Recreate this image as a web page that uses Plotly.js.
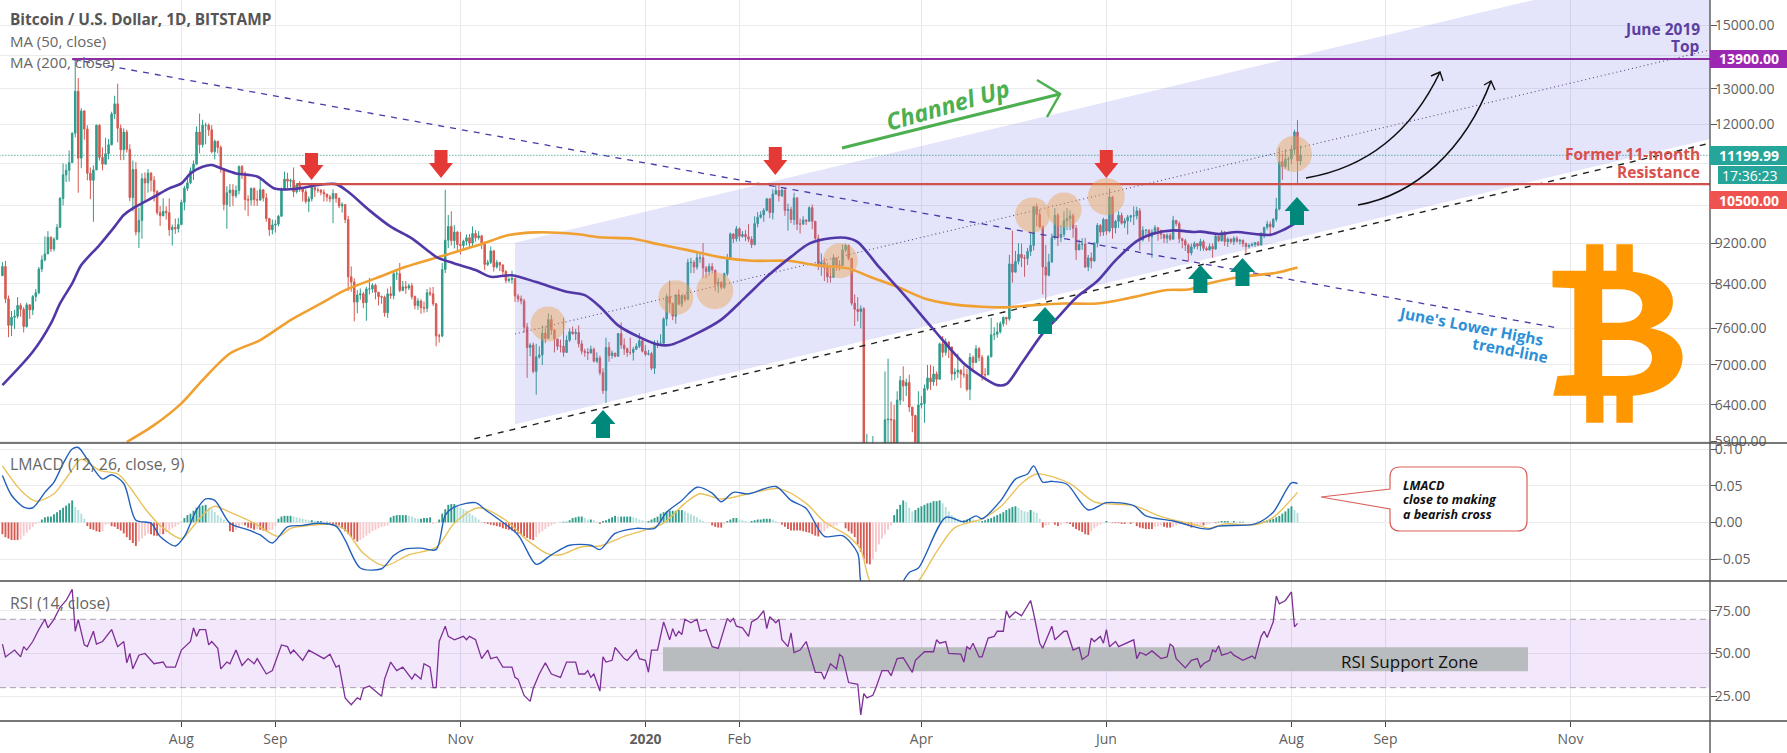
<![CDATA[<!DOCTYPE html>
<html><head><meta charset="utf-8">
<script src="https://cdn.plot.ly/plotly-3.0.1.min.js"></script>
<style>html,body{margin:0;padding:0;background:#fff}#c{width:1787px;height:753px}</style></head>
<body><div id="c"></div>
<script>
// Day numbers count from 2019-08-01
const closes=[
8730,8120,7650,7790,7810,8000,7930,7630,8010,7920,8160,8230,8680,8860,8980,9320,9080,9280,9530,10170,10720,10830,11020,11770,12930,11130,12370,11880,10760,
10590,10840,11980,11150,10980,11240,11470,12290,12570,11900,11340,11800,11350,10190,10850,9430,9680,10630,10530,10760,10590,10330,9850,9780,9880,9850,9480,9530,9500,9590,10080,
10400,10530,10820,10980,11800,11470,11980,11980,11860,11290,11560,11400,10860,10030,10300,10360,10230,10350,10920,10760,10140,10130,10400,10140,10130,10370,10180,9720,9480,9580,9600,
9770,10380,10620,10570,10590,10320,10480,10410,10320,10100,10160,10420,10360,10360,10310,10270,10200,10160,10280,10170,10000,10030,9700,8530,8430,8060,8190,8210,8050,8300,
8300,8370,8240,8160,8150,7870,8210,8180,8590,8590,8270,8340,8320,8360,8160,8000,8080,7960,7950,8230,8210,8030,7470,7470,8670,9260,9550,9250,9430,9170,9150,
9240,9310,9200,9400,9310,9350,9200,8770,8810,9040,8720,8810,8760,8630,8460,8480,8500,8170,8120,8080,7620,7280,7320,6900,7130,7160,7520,7430,7750,7570,
7420,7300,7300,7200,7400,7540,7510,7530,7340,7220,7200,7190,7250,7060,7110,6880,6610,7280,7150,7190,7140,7510,7320,7260,7200,7200,7250,7300,7390,7220,7170,
7180,6950,7340,7350,7350,7760,8160,8040,7810,8190,8020,8180,8110,8810,8810,8720,8900,8900,8700,8630,8730,8660,8390,8430,8330,8590,8900,9390,9290,9500,9340,
9380,9330,9280,9170,9610,9750,9800,9900,10160,9850,10270,10350,10230,10360,9900,9920,9700,10180,9600,9600,9690,9660,9960,9660,9300,8780,8810,8710,8530,
8520,8900,8760,8750,9060,9150,8890,8040,7930,7890,7940,4860,5580,5170,5350,5030,5330,5410,6190,6200,6190,5820,6470,6760,6680,6730,6370,6250,5880,6400,6420,
6640,6800,6740,6860,6780,7340,7200,7370,7290,6860,6890,6920,6860,6850,6630,7120,7040,7260,7120,6850,6850,7130,7490,7500,7540,7680,7790,7760,8780,8620,
8830,8970,8900,8890,9030,9150,9980,9810,9540,8720,8560,8820,9310,9790,9320,9380,9670,9720,9780,9510,9060,9170,9180,8720,8900,8840,9200,9570,9430,9700,9450,
10200,9520,9660,9790,9620,9670,9750,9780,9780,9890,9270,9470,9470,9330,9430,9520,9460,9380,9300,9360,9280,9680,9610,9290,9250,9160,9000,9120,9190,9140,
9230,9090,9060,9130,9080,9340,9250,9430,9230,9280,9230,9300,9240,9260,9190,9130,9150,9170,9210,9160,9390,9530,9600,9540,9700,9930,11040,10920,11100,11110,11350,
11800,11060,11199.99];
const highs=[
8820,8840,8180,7900,7920,8150,8040,7970,8050,8020,8190,8300,8720,8950,9340,9450,9340,9320,9600,10200,11000,10980,11320,11790,13880,13320,12450,12400,11980,
10900,10950,12000,12010,11400,11650,11620,12350,12800,13150,12000,11900,11860,11480,11070,11030,9960,10760,10780,10860,10790,10690,10360,10000,10170,9990,10170,9590,9720,9730,10140,
10460,10670,10900,11070,11950,12300,12130,12050,12030,11980,11600,11550,11450,10880,10450,10500,10500,10470,10950,10960,10800,10240,10420,10420,10350,10650,10380,10290,9730,9700,9690,
9800,10420,10800,10770,10630,10900,10520,10570,10390,10380,10220,10450,10440,10420,10380,10380,10270,10250,10380,10280,10190,10080,10030,9780,8730,8500,8280,8310,8250,8340,
8510,8410,8400,8230,8180,8180,8310,8350,8660,8680,8800,8450,8450,8400,8410,8180,8130,8110,8070,8300,8330,8340,8040,7510,8800,10370,9800,9880,9580,9450,9430,
9270,9380,9390,9550,9470,9450,9370,9230,8860,9130,9060,8860,8800,8770,8660,8520,8650,8510,8210,8180,8120,7690,7350,7360,7340,7300,7650,7630,7860,7830,
7590,7420,7410,7780,7480,7600,7630,7590,7650,7400,7260,7270,7310,7280,7200,7150,6950,7440,7370,7230,7190,7520,7700,7430,7280,7440,7290,7350,7520,7410,7320,
7240,7210,7400,7400,7500,7790,8210,8460,8040,8200,8290,8190,8200,8880,8900,8850,9010,9000,9200,8740,8790,8800,8660,8510,8440,8610,8980,9420,9410,9560,9530,
9450,9470,9600,9340,9770,9860,9880,9950,10180,10170,10380,10480,10520,10390,10380,10050,9980,10300,10200,9720,9770,9700,9990,10030,9670,9380,8990,8900,8800,
8750,8970,8900,8850,9170,9190,9170,8180,8200,8150,8000,7970,6000,5680,5970,5360,5560,5700,6900,7100,6450,6400,6600,6830,6980,6790,6850,6300,6260,6600,6530,
6700,7000,7000,6980,6900,7360,7470,7430,7380,7290,6950,7180,6930,6990,6940,7190,7150,7320,7290,7160,6950,7160,7780,7620,7700,7720,7800,7780,8960,9460,
9040,9200,9190,8960,9100,9400,9990,10050,9920,9570,9160,8980,9400,9950,9840,9580,9880,9950,9900,9830,9580,9270,9300,9310,8960,9010,9220,9620,9600,9740,9700,
10400,10230,9690,9880,9850,9730,9800,9800,9990,9980,9950,9550,9490,9490,9490,9580,9540,9480,9390,9400,9410,9780,9680,9660,9310,9290,9190,9190,9230,9200,
9290,9270,9130,9190,9190,9370,9380,9470,9450,9320,9300,9340,9340,9280,9270,9210,9190,9210,9220,9240,9430,9540,9670,9660,9730,10180,11400,11250,11350,11170,11460,
11860,12120,11450];
const lows=[
8550,8040,7450,7470,7590,7770,7800,7530,7610,7760,7830,8070,8200,8620,8830,8980,9020,9030,9260,9520,10010,10550,10560,11020,11660,10300,10880,11600,10590,
10150,9650,10840,11070,10830,10980,11100,11450,12150,11530,11080,11080,11270,10100,9880,9360,9100,9290,10120,10300,10330,10100,9800,9560,9770,9700,9350,9150,9390,9420,9580,
9900,10340,10500,10600,11000,11250,11400,11480,11700,11250,11100,11250,10770,9900,9500,9980,10000,10180,10260,10620,9900,9770,10010,10000,10000,10120,10100,9650,9350,9380,9420,
9550,9760,10350,10400,10420,10200,10280,10320,10100,10050,9860,10100,10200,10300,10240,10100,10100,10080,9620,10070,9950,9850,9620,8260,8250,7720,7860,8100,7950,7730,
8200,8230,8110,8000,8030,7800,7780,8120,8110,8470,8240,8270,8210,8280,8110,7930,7920,7850,7870,7880,8170,7990,7300,7360,7450,8600,9100,9150,9090,9030,8970,
9070,9150,9080,9120,9230,9270,9080,8660,8740,8780,8630,8690,8640,8570,8410,8420,8400,8060,8060,8020,7530,6800,7140,6870,6550,7100,7000,7350,7420,7490,
7200,7240,7200,7130,7270,7370,7490,7400,7280,7170,7130,7080,7210,7040,7030,6840,6560,6430,7050,7100,7120,7130,7260,7160,7130,7160,7070,7250,7270,7200,7140,
7150,6920,6860,7270,7310,7330,7640,7870,7740,7680,8000,7970,8060,8090,8600,8600,8670,8800,8510,8500,8550,8600,8260,8230,8290,8300,8540,8870,9200,9230,9240,
9310,9240,9220,9100,9150,9530,9720,9650,9880,9730,9700,10250,10100,10200,9780,9460,9620,9580,9470,9400,9580,9580,9650,9490,9260,8660,8550,8450,8420,
8420,8510,8650,8650,8740,9010,8850,8000,7640,7720,7600,4400,3850,5100,5120,4450,5000,5060,5400,5730,5860,5740,5700,6400,6450,6530,6300,6020,5860,5880,6350,
6150,6610,6620,6680,6680,6780,7120,7150,7110,6760,6770,6800,6650,6800,6600,6470,6900,7030,7060,6760,6810,6840,7120,7400,7440,7510,7630,7660,7730,8420,
8630,8770,8720,8530,8760,8940,9050,9550,9520,8200,8100,8540,8800,9270,9140,9220,9320,9470,9470,9310,8860,9100,9060,8700,8640,8690,8820,9110,9340,9350,9370,
9420,9290,9400,9520,9590,9520,9380,9640,9580,9700,9050,9230,9350,9230,8900,9370,9250,9280,9200,9200,9250,9280,9560,9200,9090,9040,8830,8950,9080,9070,
9040,9040,9040,9050,8900,9060,9220,9230,9140,9120,9190,9160,9210,9170,9120,9000,9090,9130,9120,9140,9150,9300,9480,9380,9510,9650,9900,10600,10870,10830,10980,
11220,10500,10950];
const firstCandleDay=-60, firstOpen=8550;

const ma50Days=[-59,-49,-43,-40,-36,-33,-27,-22,-19,-16,-9,-4,0,3,7,10,13,18,25,31,39,45,51,55,62,69,76,84,90,97,102,109,117,127,133,138,144,151,157,161,170,178,186,193,201,207,214,219,223,230,238,248,258,264,269,272,277,284,289,295,302,308,315,320,327,334,336,342,348,354,359,363,368];
const ma50=[6691,7210,7685,8035,8405,8757,9159,9545,9797,9943,10207,10400,10517,10755,10915,10960,10880,10755,10680,10390,10400,10480,10500,10320,9900,9545,9297,8922,8790,8660,8530,8560,8430,8250,8187,7977,7650,7450,7330,7320,7514,7750,8150,8530,8920,9190,9300,9310,9220,8720,8210,7580,7024,6818,6691,6705,7024,7514,7790,8140,8450,8850,9240,9390,9465,9430,9440,9390,9430,9390,9370,9465,9650];
const ma200Days=[-18,-9,0,7,16,26,36,45,54,64,74,85,98,108,117,130,138,149,157,167,178,188,200,209,220,227,236,245,254,264,272,281,291,302,312,325,332,338,348,361,368];
const ma200=[5890,6117,6423,6767,7183,7402,7741,8005,8280,8500,8725,8922,9159,9367,9423,9390,9320,9290,9180,9056,8910,8842,8842,8757,8690,8530,8342,8127,8024,7977,7966,8005,8035,8035,8127,8280,8290,8393,8517,8609,8712];

const macdDays=[-59,-56,-52,-49,-45,-42,-39,-36,-34,-31,-26,-23,-19,-15,-10,-7,-2,1,5,8,11,16,22,26,30,35,40,45,51,54,59,66,70,74,79,84,87,90,97,100,111,117,122,128,135,138,143,150,156,160,165,170,175,178,182,187,196,201,206,212,218,223,224,228,233,238,240,243,252,258,262,264,270,275,279,281,284,287,292,299,305,314,318,327,336,339,342,354,360,366,368];
const macdLine=[.064,.037,.021,.020,.041,.055,.080,.100,.102,.086,.059,.065,.053,.003,-.001,-.019,-.032,-.019,.017,.032,.030,-.001,-.010,-.017,-.028,-.006,-.004,-.001,-.005,-.024,-.062,-.063,-.045,-.036,-.035,-.037,.010,.021,.027,.018,-.017,-.057,-.044,-.031,-.031,-.037,-.015,-.008,-.008,.014,.030,.048,.040,.028,.041,.039,.049,.030,.019,-.019,-.018,-.042,-.080,-.120,-.120,-.080,-.068,-.062,.007,.001,.009,.005,.029,.059,.066,.077,.055,.056,.052,.017,.027,.023,.009,.002,-.008,-.009,-.005,-.002,.014,.054,.053];
const signalDays=[-59,-53,-48,-42,-37,-33,-27,-21,-17,-12,-7,0,3,7,11,16,24,32,36,42,50,54,60,67,75,84,90,98,107,114,121,125,132,138,146,153,159,166,171,178,187,197,206,212,220,224,227,234,243,249,255,264,270,277,282,293,301,314,323,336,339,344,354,360,368];
const signalLine=[.077,.044,.029,.039,.066,.086,.071,.066,.048,.019,-.004,-.022,-.010,.010,.022,.014,-.001,-.019,-.008,-.004,-.003,-.010,-.042,-.059,-.044,-.034,-.001,.020,.003,-.024,-.043,-.044,-.033,-.032,-.019,-.010,-.001,.026,.039,.032,.039,.046,.026,.001,-.019,-.037,-.080,-.115,-.080,-.040,-.007,.005,.021,.053,.066,.053,.028,.023,.008,-.005,-.008,-.002,-.003,.007,.041];
// Histogram runs: [first day, bars]
const histRuns=[
[-59,[-.016,-.02,-.022,-.024,-.024,-.024,-.023,-.018,-.014,-.01,-.006,-.002]],
[-47,[.001,.004,.007,.008,.008,.011,.014,.017,.02,.023,.026,.03,.021,.017,.012,.005]],
[-31,[-.005,-.009,-.01,-.012,-.013,-.012,-.003,-.002,-.005,-.006,-.009,-.011,-.015,-.02,-.024,-.028,-.032]],
[-14,[-.026,-.022,-.018,-.015,-.016,-.018,-.018,-.016,-.016,-.013,-.011,-.008,-.006,-.003]],
[0,[.002,.006,.01,.012,.016,.02,.022,.023,.024,.02,.018,.014,.01,.007,.004,.001]],
[16,[-.012,-.013,-.01,-.006,-.003,-.004,-.007,-.008,-.01,-.009,-.01,-.011,-.012,-.011,-.01,-.005]],
[32,[.005,.008,.009,.009,.009,.008,.007,.006,.005,.004,.003,.003,.002,.002,.002,.001,.001]],
[49,[-.001,-.002,-.003,-.004,-.008,-.012,-.016,-.02,-.023,-.026,-.024,-.021,-.018,-.015,-.012,-.01,-.008,-.006,-.005,-.004]],
[69,[.007,.009,.01,.01,.01,.01,.009,.008,.006,.005,.005,.006,.006,.007]],
[83,[-.002,-.001]],
[85,[.004,.012,.018,.024,.025,.025,.022,.02,.018,.016,.013,.01,.007,.004,.001]],
[100,[-.001,-.002,-.003,-.004,-.005,-.006,-.008,-.009,-.01,-.011,-.013,-.015,-.017,-.019,-.021,-.023,-.024,-.02,-.015,-.012,-.009,-.006,-.004,-.002]],
[125,[.001,.001,.001,.003,.006,.007,.008,.008,.006,.004,.004,.003,.001,-.002]],
[139,[.002,.003,.005,.007,.009,.008,.008,.008,.008,.008,.007,.006,.004,.003,.002,.002,.004,.006,.008,.012,.014,.015,.016,.016,.016,.017,.017,.015,.013,.011,.009,.007,.004,.002]],
[174,[-.001,-.004,-.006,-.007,-.007,-.002]],
[180,[.002,.004,.006,.006,.004,.003,.002,.001,.002,.003,.004,.004,.005,.005,.005,.004,.002]],
[197,[-.001,-.003,-.006,-.009,-.011,-.011,-.011,-.011,-.012,-.013,-.014,-.016,-.018,-.019,-.016,-.012,-.008,-.006,-.005,-.004]],
[219,[-.008,-.012,-.015,-.02,-.03,-.04,-.05,-.056,-.057,-.05,-.04,-.03,-.022,-.016,-.01,-.004]],
[235,[.01,.018,.024,.03,.028,.02,.015,.017,.02,.022,.024,.026,.027,.029,.029,.03,.026,.021,.015,.01,.007,.005,.002]],
[258,[.003,.004,.005,.004,.003,.002,.002,.003,.005,.006,.008,.01,.012,.014,.017,.019,.021,.022,.02,.017,.015,.014,.017,.015,.013,.005]],
[284,[-.007,-.004,-.003,-.001,-.003,-.005,-.003,-.001,-.001,-.002,-.006,-.009,-.011,-.013,-.016,-.017,-.012,-.008,-.005,-.003,-.001]],
[305,[.002,-.001,-.001,-.001,-.001,-.002,-.002,-.001,-.002,-.001,-.005,-.007,-.008,-.009,-.009,-.009,-.006,-.005,-.004,-.006,-.007,-.007,-.006,-.004,-.002,-.002,-.003,-.005,-.007,-.006,-.005,-.004,-.004,-.003,-.002,-.001,-.001]],
[342,[.001,.002,.002,.002,.001,.002,.001,.001,.001]],
[355,[.001,.002,.002,.003,.004,.005,.007,.009,.012,.015,.019,.022,.017,.013]]];

const rsiPairs=[[-59,55.5],[-58,48],[-55,52],[-53,48],[-52,54],[-51,52],[-49,57],[-47,64],[-45,70],[-44,65],[-42,70],[-40,77],[-38,81],[-36,87.5],[-35,63],[-34,70],[-32,55],[-31,54],[-29,63],[-28,55.5],[-26,57],[-23,64],[-21,54],[-19,57],[-18,44.5],[-17,50],[-16,41],[-14,49],[-12,50],[-9,44],[-6,45],[-5,42],[-2,42],[0,52],[3,57],[4,65],[5,60],[6,64],[8,64],[9,55],[10,57],[12,53],[13,41],[15,45],[16,44],[18,52],[20,43],[22,47],[24,44],[25,47],[28,38],[30,40],[33,55],[35,54],[36,50],[37,52],[40,46],[42,52],[47,47],[49,49.5],[51,42],[52,43],[54,24],[56,20],[58,24],[59,23],[60,29.5],[62,31],[66,25],[67,35],[69,45],[71,40],[73,42],[76,35],[77,38],[79,35],[80,44],[82,42],[83,30],[84,30],[85,57],[87,66],[88,60],[90,58],[93,60],[94,58],[95,60],[97,58],[99,47],[101,52],[102,47],[104,48],[106,42],[109,42],[110,36],[111,35],[113,25.5],[115,22],[116,29.5],[118,38],[120,44.5],[122,38],[125,36],[127,45],[130,45],[131,38],[133,38],[134,40],[135,36],[136,38],[138,28],
[139,48],[140,45],[142,46],[143,53.5],[146,47],[147,46],[150,52],[151,47],[153,46],[154,39],[155,52],[157,52],[159,68.5],[161,58],[162,64.5],[163,60],[164,63],[165,61],[166,70],[168,68],[170,70],[171,63],[173,64],[175,54],[177,53],[180,70.5],[181,68.5],[182,70.5],[183,66],[185,65],[187,60],[188,68.5],[190,70.5],[192,75],[193,64.5],[194,71.5],[196,68],[197,70],[198,58],[200,54],[201,62],[202,50.5],[204,52],[206,57],[209,39],[211,39],[212,35],[214,44],[216,41],[217,49.5],[218,48],[220,33],[223,32],[224,14],[225,26.5],[226,24],[228,25.5],[229,30],[231,40],[233,40],[234,37],[236,47],[238,47.5],[241,39],[242,46],[245,51],[248,51],[249,58],[250,56],[252,57],[253,50],[257,49.6],[258,45],[259,54],[260,52.5],[261,56],[263,48],[264,48],[266,59],[268,60],[269,63],[271,63],[272,75],[273,71],[275,74.4],[277,72],[280,81],[281,73.5],[283,56],[284,53],[287,66],[288,58],[291,63],[292,63],[294,52],[296,53.5],[297,46.5],[299,49],[300,59],[301,57],[303,60],[304,56],[305,64],[306,54],[308,57],[309,54],[314,58],[315,47],[316,50.5],[317,50],[318,49],[320,51.5],[323,47],[325,48],[326,55.5],[327,54],[328,47],[331,41.6],[333,46],[335,47],[336,42],[337,44],[339,46],[340,52],[341,51],[342,54.5],[343,49],[345,50],[346,51],[347,49],[350,46],[353,48.5],[354,47],[356,60],[357,63],[358,59.4],[360,68.5],[361,83.6],[362,79],[364,81],[366,86],[367,65.6],[368,67.6]];

const timeTicks=[0,31,92,153,184,244,305,366,397,458];
const timeLabels=['Aug','Sep','Nov','<b>2020</b>','Feb','Apr','Jun','Aug','Sep','Nov'];
const priceTicks=[5900,6400,7000,7600,8400,9200,10000,11000,12000,13000,14000,15000];
const hiddenPriceLabels=[10000,11000,14000]; // covered by the price tags in the reference
const macdTicks=[-.05,0,.05,.1];
const macdTickLabels=['−0.05','0.00','0.05','0.10'];
const rsiTicks=[25,50,75];

// Trend structures as [day, price]
const channelDays=[110,504,504,110], channelPrices=[9205,17431,11618,6130];
const midDays=[110,504], midPrices=[7504,14182];
const supportDays=[96.6,504], supportPrices=[5933,11510];
const lowerHighDays=[-36,454.5], lowerHighPrices=[13890,7600];
const topLevel=13900, resistanceLevel=10500, lastPrice=11199.99;

const DAY=86400000, ORIGIN=Date.UTC(2019,7,1);
const d=n=>new Date(ORIGIN+n*DAY).toISOString().slice(0,19).replace('T',' ');
const W=1710,H=721;
const pX=x=>x/W, pY=y=>1-y/H;
const F='"Open Sans",sans-serif';

// ---- traces
const dates=closes.map((_,i)=>d(firstCandleDay+1+i));
const opens=closes.map((_,i)=>i?closes[i-1]:firstOpen);
const tr=[];
tr.push({type:'scatter',x:channelDays.map(d),y:channelPrices,mode:'none',fill:'toself',fillcolor:'rgba(118,120,235,0.2)',hoverinfo:'skip'});
tr.push({type:'candlestick',x:dates,open:opens,high:highs,low:lows,close:closes,
  increasing:{line:{color:'#2f9c8a',width:1},fillcolor:'#2f9c8a'},
  decreasing:{line:{color:'#d65a52',width:1},fillcolor:'#d65a52'},whiskerwidth:0,hoverinfo:'skip'});
const ln=(x,y,color,width,dash,ya,smooth)=>({type:'scatter',mode:'lines',x:x,y:y,yaxis:ya||'y',line:Object.assign({color,width,dash:dash||'solid'},smooth?{shape:'spline',smoothing:smooth}:{}),hoverinfo:'skip'});
tr.push(ln(midDays.map(d),midPrices,'#5a4a80',1.1,'1px,3px'));
tr.push(ln(supportDays.map(d),supportPrices,'#222',1.4,'6px,6px'));
tr.push(ln(lowerHighDays.map(d),lowerHighPrices,'#4a3aa8',1.3,'6px,6px'));
tr.push(ln(ma200Days.map(d),ma200,'#f0a030',2.6,null,'y',0.8));
tr.push(ln(ma50Days.map(d),ma50,'#5238a6',2.6,null,'y',0.8));
tr.push(ln([d(-60),d(504)],[lastPrice,lastPrice],'#1f8a7a',1,'1px,2px'));
tr.push(ln([d(-36),d(504)],[topLevel,topLevel],'#8e2ca6',2.2));
tr.push(ln([d(38),d(504)],[resistanceLevel,resistanceLevel],'#d0504c',2.2));
// histogram
const hx=[],hy=[],hc=[];
histRuns.forEach(r=>r[1].forEach((v,i)=>{hx.push(r[0]+i);hy.push(v);}));
hy.forEach((v,i)=>{const up=i===0||Math.abs(v)>=Math.abs(hy[i-1]);hc.push(v>=0?(up?'#2f9c8a':'#b2dfdb'):(up?'#d65a52':'#f8c9cc'));});
tr.push({type:'bar',x:hx.map(d),y:hy,yaxis:'y2',marker:{color:hc,line:{width:0}},width:DAY*0.62,hoverinfo:'skip'});
tr.push(ln(signalDays.map(d),signalLine,'#e8c25a',1.4,null,'y2',0.8));
tr.push(ln(macdDays.map(d),macdLine,'#2360bd',1.4,null,'y2',0.8));
tr.push(ln(rsiPairs.map(p=>d(p[0])),rsiPairs.map(p=>p[1]),'#7d2f96',1.3,null,'y3'));

// ---- drawings
const shapes=[];
const pathOf=s=>s.replace(/(-?[\d.]+),(-?[\d.]+)/g,(m,a,b)=>pX(+a).toFixed(5)+','+pY(+b).toFixed(5));
const pShape=(path,o)=>shapes.push(Object.assign({type:'path',xref:'paper',yref:'paper',path:pathOf(path),layer:'above'},o));
// RSI band and zone
shapes.push({type:'rect',xref:'x',x0:d(-59.8),x1:d(504),yref:'y3',y0:30,y1:70,fillcolor:'rgba(156,60,230,0.12)',line:{width:0},layer:'between'});
shapes.push({type:'rect',xref:'x',x0:d(158.8),x1:d(444),yref:'y3',y0:39.6,y1:53.7,fillcolor:'#b9bcbe',line:{width:0},layer:'between'});
[70,30].forEach(v=>shapes.push({type:'line',xref:'x',x0:d(-59.8),x1:d(504),yref:'y3',y0:v,y1:v,line:{color:'#a8a0a8',width:1,dash:'6px,4px'},layer:'between'}));
// circles
[[548,324,17.5],[675.8,297.7,17.5],[714.8,290.7,18.5],[840.3,260.7,17.5],[1032.5,215,17.5],[1064,210,17.5],[1106.3,196.7,18.5],[1294,154,18]].forEach(c=>
 shapes.push({type:'circle',xref:'paper',yref:'paper',x0:pX(c[0]-c[2]),x1:pX(c[0]+c[2]),y0:pY(c[1]+c[2]),y1:pY(c[1]-c[2]),fillcolor:'rgba(238,165,85,0.45)',line:{width:0},layer:'above'}));
// block arrows
[[311.5,153,180],[441,150,178],[775.3,147,175],[1106.3,150,178]].forEach(a=>{const[x,t,b]=a;
 pShape(`M${x-6.5},${t} L${x+6.5},${t} L${x+6.5},${b-15} L${x+12},${b-15} L${x},${b} L${x-12},${b-15} L${x-6.5},${b-15} Z`,{fillcolor:'#e53935',line:{width:0}});});
[[603,410,438],[1045,307,334],[1297,197,225],[1200.4,265,293],[1242.5,258,286]].forEach(a=>{const[x,t,b]=a;
 pShape(`M${x-7},${b} L${x+7},${b} L${x+7},${t+14} L${x+12.5},${t+14} L${x},${t} L${x-12.5},${t+14} L${x-7},${t+14} Z`,{fillcolor:'#00897b',line:{width:0}});});
// channel up arrow
pShape('M842,148 L1060,94',{line:{color:'#4caf50',width:3}});
pShape('M1037,80 L1060,94 L1047,117',{line:{color:'#4caf50',width:2.5}});
// curved black arrows
pShape('M1306,178 C1365,168 1410,135 1440,72',{line:{color:'#111',width:1.6}});
pShape('M1431,76 L1440,72 L1443,81',{line:{color:'#111',width:1.4}});
pShape('M1358,205 C1415,195 1465,150 1491,81',{line:{color:'#111',width:1.6}});
pShape('M1484,85 L1491,81 L1495,90',{line:{color:'#111',width:1.4}});
// Bitcoin logo
const zx=z=>(1187+z/2.613).toFixed(1), zy=z=>(z/3).toFixed(1);
const Z=(x,y)=>zx(x)+','+zy(y);
const logo=`M${Z(955,812)} L${Z(1043,812)} L${Z(1043,733)} L${Z(1088,733)} L${Z(1088,812)} L${Z(1122,812)} L${Z(1122,733)} L${Z(1165,733)} L${Z(1165,815)} `+
 `C${Z(1240,825)} ${Z(1270,865)} ${Z(1270,905)} C${Z(1270,945)} ${Z(1245,970)} ${Z(1210,985)} C${Z(1265,995)} ${Z(1295,1030)} ${Z(1295,1070)} C${Z(1295,1135)} ${Z(1245,1180)} ${Z(1165,1187)} `+
 `L${Z(1165,1268)} L${Z(1122,1268)} L${Z(1122,1187)} L${Z(1088,1187)} L${Z(1088,1268)} L${Z(1043,1268)} L${Z(1043,1187)} L${Z(957,1187)} L${Z(968,1128)} L${Z(1012,1125)} L${Z(1012,865)} L${Z(955,862)} Z `+
 `M${Z(1085,868)} L${Z(1130,868)} C${Z(1170,868)} ${Z(1190,890)} ${Z(1190,915)} C${Z(1190,945)} ${Z(1170,968)} ${Z(1130,968)} L${Z(1085,968)} Z `+
 `M${Z(1085,1020)} L${Z(1145,1020)} C${Z(1190,1020)} ${Z(1215,1045)} ${Z(1215,1072)} C${Z(1215,1105)} ${Z(1190,1128)} ${Z(1145,1128)} L${Z(1085,1128)} Z`;
pShape(logo,{fillcolor:'#ff9800',fillrule:'evenodd',line:{width:0}});
// callout
pShape('M1400,467 L1517,467 Q1527,467 1527,477 L1527,521 Q1527,531 1517,531 L1400,531 Q1390,531 1390,521 L1390,509 L1321,497 L1390,489 L1390,477 Q1390,467 1400,467 Z',{fillcolor:'#fff',line:{color:'#d9605a',width:1.2}});
// pane frames
[[0,443,1787,443],[0,581,1787,581],[0,721,1787,721],[1710,0,1710,753]].forEach(l=>
 shapes.push({type:'line',xref:'paper',yref:'paper',x0:pX(l[0]),x1:pX(l[2]),y0:pY(l[1]),y1:pY(l[3]),line:{color:'#4a4a4a',width:1.3},layer:'above'}));
// price tags
const tag=(x0,y0,y1,c)=>shapes.push({type:'rect',xref:'paper',yref:'paper',x0:pX(x0),x1:pX(1787),y0:pY(y1),y1:pY(y0),fillcolor:c,line:{width:0},layer:'above'});
tag(1710,50,68,'#9c27b0');tag(1710,146,165,'#26a69a');tag(1718,166,184,'#26a69a');tag(1710,191,209,'#ef5350');

const ann=[];
const T=(x,y,text,o)=>ann.push(Object.assign({xref:'paper',yref:'paper',x:pX(x),y:pY(y),text,showarrow:false,xanchor:'left',yanchor:'middle',borderpad:0,font:{family:F,size:14,color:'#5d5d5d'}},o));
T(9,20,'<b>Bitcoin / U.S. Dollar, 1D, BITSTAMP</b>',{font:{family:F,size:15.4,color:'#555'}});
T(9,41,'MA (50, close)',{font:{family:F,size:15,color:'#666'}});
T(9,62,'MA (200, close)',{font:{family:F,size:15,color:'#666'}});
T(9,464,'LMACD (12, 26, close, 9)',{font:{family:F,size:15.8,color:'#666'}});
T(9,603,'RSI (14, close)',{font:{family:F,size:15.8,color:'#666'}});
T(1701,29,'<b>June 2019</b>',{xanchor:'right',font:{family:F,size:15.5,color:'#5b3fa0'}});
T(1701,46,'<b>Top</b>',{xanchor:'right',font:{family:F,size:15.5,color:'#5b3fa0'}});
T(1701,154,'<b>Former 11-month</b>',{xanchor:'right',font:{family:F,size:15.5,color:'#d9504c'}});
T(1701,172,'<b>Resistance</b>',{xanchor:'right',font:{family:F,size:15.5,color:'#d9504c'}});
T(1471,326,"<b>June's Lower Highs</b>",{xanchor:'center',textangle:11,font:{family:F,size:15.5,color:'#2e8fd6'}});
T(1510,350,'<b>trend-line</b>',{xanchor:'center',textangle:11,font:{family:F,size:15.5,color:'#2e8fd6'}});
T(947,105,'<b><i>Channel Up</i></b>',{xanchor:'center',textangle:-16,font:{family:F,size:23.5,color:'#4caf50'}});
T(1402,485,'<b><i>LMACD</i></b>',{font:{family:F,size:12.5,color:'#111'}});
T(1402,499.5,'<b><i>close to making</i></b>',{font:{family:F,size:12.5,color:'#111'}});
T(1402,514,'<b><i>a bearish cross</i></b>',{font:{family:F,size:12.5,color:'#111'}});
T(1409,661,'RSI Support Zone',{xanchor:'center',font:{family:F,size:17,color:'#111'}});
const W2={family:F,size:14,color:'#fff'};
T(1718,59,'<b>13900.00</b>',{font:W2});
T(1718,155.5,'<b>11199.99</b>',{font:W2});
T(1721,175,'17:36:23',{font:W2});
T(1718,200,'<b>10500.00</b>',{font:W2});

const axisFont={family:F,size:14,color:'#5f5f5f'};
const yBase={side:'right',showline:false,ticks:'outside',ticklen:6,tickcolor:'#555',gridcolor:'#ebebeb',gridwidth:1,zeroline:false,tickfont:axisFont,tickmode:'array',fixedrange:true,anchor:'x',ticklabelstandoff:-5};
const layout={width:1787,height:753,margin:{l:0,r:77,t:0,b:32,pad:0},paper_bgcolor:'#fff',plot_bgcolor:'#fff',showlegend:false,barmode:'overlay',
 xaxis:{type:'date',range:[d(-59.8),d(504)],rangeslider:{visible:false},anchor:'y3',showline:false,showgrid:true,gridcolor:'#e6e8ee',gridwidth:1,zeroline:false,ticks:'outside',ticklen:5,tickcolor:'#444',tickmode:'array',tickvals:timeTicks.map(d),ticktext:timeLabels,tickfont:axisFont,fixedrange:true},
 yaxis:Object.assign({},yBase,{type:'log',domain:[(H-443)/H,1],range:[Math.log10(5877),Math.log10(15865)],tickvals:priceTicks,ticktext:priceTicks.map(v=>hiddenPriceLabels.includes(v)?'':v.toFixed(2))}),
 yaxis2:Object.assign({},yBase,{domain:[(H-581)/H,(H-444)/H],range:[-.0797,.1068],tickvals:macdTicks,ticktext:macdTickLabels}),
 yaxis3:Object.assign({},yBase,{domain:[0,(H-581)/H],range:[10.5,92.4],tickvals:rsiTicks,ticktext:rsiTicks.map(v=>v.toFixed(2))}),
 shapes,annotations:ann};
Plotly.newPlot('c',tr,layout,{displayModeBar:false,staticPlot:true});
</script></body></html>]]>
